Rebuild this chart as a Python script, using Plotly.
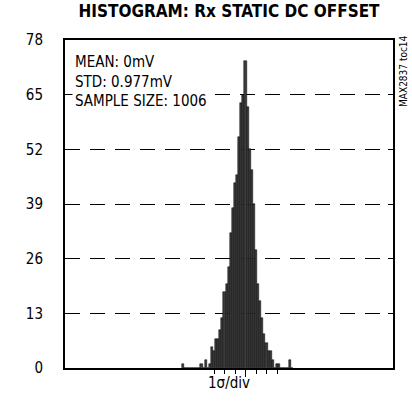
import plotly.graph_objects as go

# histogram bins, centre of each bin in sigma units
bin_sigma = [-6.0, -5.8, -5.6, -5.4, -5.2, -5.0, -4.8, -4.6, -4.4, -4.2,
             -4.0, -3.8, -3.6, -3.4, -3.2, -3.0, -2.8, -2.6, -2.4, -2.2,
             -2.0, -1.8, -1.6, -1.4, -1.2, -1.0, -0.8, -0.6, -0.4, -0.2,
             0.0, 0.2, 0.4, 0.6, 0.8, 1.0, 1.2, 1.4, 1.6, 1.8,
             2.0, 2.2, 2.4, 2.6, 2.8, 3.0, 3.2, 3.4, 3.6, 3.8,
             4.0, 4.2, 4.4]
counts = [1, 0, 0, 0, 0, 0, 0, 0, 0, 1,
          0, 2, 0, 1, 5, 4, 7, 7, 9, 12,
          18, 20, 24, 32, 38, 44, 46, 55, 63,
          65, 73, 62, 52, 47, 39, 28, 20, 16, 12, 8,
          6, 4, 4, 2, 0, 1, 1, 0, 0, 0,
          0, 2, 0]
bin_sigma = bin_sigma[:len(counts)]

y_ticks = [0, 13, 26, 39, 52, 65, 78]
x_ticks = [-3, -2, -1, 0, 1, 2, 3]

FONT = "DejaVu Sans Condensed, Liberation Sans Narrow, Arial Narrow, Liberation Sans, Arial"

fig = go.Figure()
fig.add_trace(go.Bar(
    x=bin_sigma, y=counts, width=0.2,
    marker=dict(color="#3c3c3c", line=dict(color="black", width=0.5)),
    showlegend=False,
))
# invisible trace on the overlay axis so the longer centre tick is drawn
fig.add_trace(go.Scatter(x=[0], y=[0], xaxis="x2", mode="markers",
                         marker=dict(opacity=0), showlegend=False,
                         hoverinfo="skip"))

fig.update_layout(
    width=412, height=402,
    margin=dict(l=65, r=19, t=40, b=34),
    paper_bgcolor="white", plot_bgcolor="white",
    bargap=0,
    font=dict(family=FONT, size=15, color="black"),
    title=dict(text="<b>HISTOGRAM: Rx STATIC DC OFFSET</b>",
               x=0.5, xref="paper", y=0.987, yref="container", yanchor="top",
               font=dict(family=FONT, size=17, color="black")),
    xaxis=dict(range=[-17.2, 14.05], showgrid=False, zeroline=False,
               tickvals=x_ticks, showticklabels=False,
               ticks="outside", ticklen=4, tickwidth=1, tickcolor="black",
               showline=True, linecolor="black", linewidth=2, mirror=True,
               title=dict(text="1σ/div", standoff=4,
                          font=dict(family=FONT, size=15))),
    xaxis2=dict(overlaying="x", matches="x", anchor="y", side="bottom",
                tickvals=[0], showticklabels=False, ticks="outside",
                ticklen=8, tickwidth=1, tickcolor="black",
                showgrid=False, zeroline=False, showline=False),
    yaxis=dict(range=[0, 78], tickvals=y_ticks,
               ticks="inside", ticklen=5, tickwidth=1, tickcolor="black",
               showline=True, linecolor="black", linewidth=2, mirror="ticks",
               showgrid=True, gridcolor="black", gridwidth=1,
               griddash="15px,10px", zeroline=False,
               ticklabelstandoff=17),
)

fig.add_annotation(
    text="MEAN: 0mV<br>STD: 0.977mV<br>SAMPLE SIZE: 1006",
    xref="paper", yref="paper", x=0.02, y=0.968,
    xanchor="left", yanchor="top", align="left", showarrow=False,
    bgcolor="white", borderpad=2,
    font=dict(family=FONT, size=15, color="black"),
)
fig.add_annotation(
    text="MAX2837 toc14", textangle=-90,
    xref="paper", yref="paper", x=1.0, y=1.02, xshift=3,
    xanchor="left", yanchor="top", showarrow=False,
    font=dict(family=FONT, size=10, color="black"),
)

# drop the browser's default 8px body margin so the figure sits at 0,0
fig.write_html("out.html", config={"displayModeBar": False},
               post_script="document.body.style.margin='0px';")
